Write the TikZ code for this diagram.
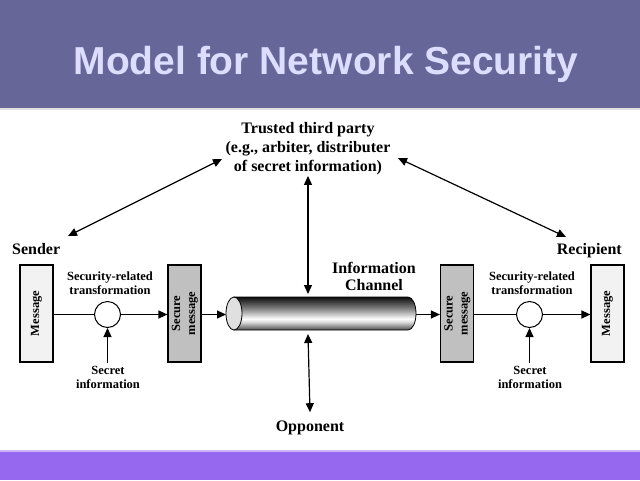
\documentclass[tikz,border=0pt]{standalone}
\usepackage{fontspec}
\setmainfont{Liberation Serif}
\newfontfamily\titlefont{Liberation Sans}
\usetikzlibrary{arrows.meta}
\definecolor{hdr}{RGB}{102,102,153}
\definecolor{ttl}{RGB}{221,221,255}
\definecolor{ftr}{RGB}{150,104,240}
\definecolor{ftrline}{RGB}{205,180,250}
\definecolor{boxlight}{RGB}{242,242,242}
\definecolor{boxgray}{RGB}{192,192,192}
\pgfdeclareverticalshading{pipe}{100bp}{color(0bp)=(black!70); color(25bp)=(black!70); color(37bp)=(white!85!black); color(42bp)=(white); color(58bp)=(black!50); color(75bp)=(black!95); color(100bp)=(black!95)}
\begin{document}
\begin{tikzpicture}[x=1pt,y=1pt,
 lbl/.style={font=\bfseries\fontsize{16}{17}\selectfont, align=center, inner sep=0pt},
 sml/.style={font=\bfseries\fontsize{12.5}{14}\selectfont, align=center, inner sep=0pt},
 msgbox/.style={draw=black, line width=1.2pt, fill=boxlight, minimum width=33pt, minimum height=97pt, inner sep=0pt, font=\bfseries\fontsize{12.5}{15}\selectfont},
 secbox/.style={msgbox, fill=boxgray},
 xform/.style={circle, draw=black, line width=1pt, fill=white, minimum size=26pt, inner sep=0pt},
 conn/.style={line width=1.2pt},
 arr/.style={-{Triangle[length=9pt,width=8pt]}, line width=1.2pt},
 darr/.style={{Triangle[length=9pt,width=8pt]}-{Triangle[length=9pt,width=8pt]}, line width=1.2pt},
]
\useasboundingbox (0,0) rectangle (640,-480);
\fill[white] (0,0) rectangle (640,-480);
\fill[hdr] (0,0) rectangle (640,-108);
\fill[black!12] (0,-108) rectangle (640,-110);
\node[font=\titlefont\bfseries\fontsize{39}{40}\selectfont, text=ttl, anchor=base, inner sep=0pt] (title) at (326,-74) {Model for Network Security};
\fill[ftr] (0,-451) rectangle (640,-480);
\fill[ftrline] (0,-450) rectangle (640,-452);

% labels
\node[lbl, font=\bfseries\fontsize{16}{19}\selectfont] (ttp) at (308,-148.5) {Trusted third party\\(e.g., arbiter, distributer\\of secret information)};
\node[lbl, anchor=base west] (sender) at (12,-254) {Sender};
\node[lbl, anchor=base east] (recipient) at (622,-254) {Recipient};
\node[lbl] (ic) at (374,-276) {Information\\Channel};
\node[lbl, anchor=base] (opp) at (310,-431) {Opponent};

% boxes
\node[msgbox] (m1) at (36.5,-313.5) {\rotatebox{90}{Message}};
\node[secbox] (s1) at (184.5,-313.5) {\rotatebox{90}{\begin{tabular}{@{}c@{}}Secure\\message\end{tabular}}};
\node[secbox] (s2) at (457,-313.5) {\rotatebox{90}{\begin{tabular}{@{}c@{}}Secure\\message\end{tabular}}};
\node[msgbox] (m2) at (607.5,-313.5) {\rotatebox{90}{Message}};

\node[xform] (c1) at (107.5,-314.5) {};
\node[xform] (c2) at (529.5,-314.5) {};
\node[sml] (sr1) at (110,-283) {Security-related\\transformation};
\node[sml] (sr2) at (532,-283) {Security-related\\transformation};
\node[sml] (si1) at (108,-377) {Secret\\information};
\node[sml] (si2) at (530,-377) {Secret\\information};

% pipe
\shadedraw[shading=pipe, draw=black, line width=0.8pt] (234,-297) -- (408,-297) arc[start angle=90, end angle=-90, x radius=8, y radius=16.5] -- (234,-330) -- cycle;
\filldraw[fill=black!12, draw=black, line width=0.8pt] (234,-313.5) ellipse[x radius=8, y radius=16.5];
\coordinate (pl) at (226,-314.5);
\coordinate (pr) at (416,-314.5);
\coordinate (ptop) at (308,-297);
\coordinate (pbot) at (308,-330);

% connectors
\draw[conn] (m1.east |- c1) -- (c1.west);
\draw[arr] (c1.east) -- (s1.west |- c1);
\draw[arr] (s1.east |- c1) -- (pl);
\draw[arr] (pr) -- (s2.west |- pr);
\draw[conn] (s2.east |- c2) -- (c2.west);
\draw[arr] (c2.east) -- (m2.west |- c2);
\draw[arr] ([yshift=3pt]si1.north -| c1) -- (c1.south);
\draw[arr] ([yshift=3pt]si2.north -| c2) -- (c2.south);

\draw[darr] ([yshift=-1pt]ttp.south) -- ([yshift=3pt]ptop);
\draw[darr] ([yshift=-4pt]pbot) -- ([yshift=8pt]opp.north);

\coordinate (dl1) at (68,-236);
\coordinate (dl2) at (222,-159);
\coordinate (dr1) at (398,-158);
\coordinate (dr2) at (566,-237);
\draw[darr] (dl1) -- (dl2);
\draw[darr] (dr1) -- (dr2);
\end{tikzpicture}
\end{document}
